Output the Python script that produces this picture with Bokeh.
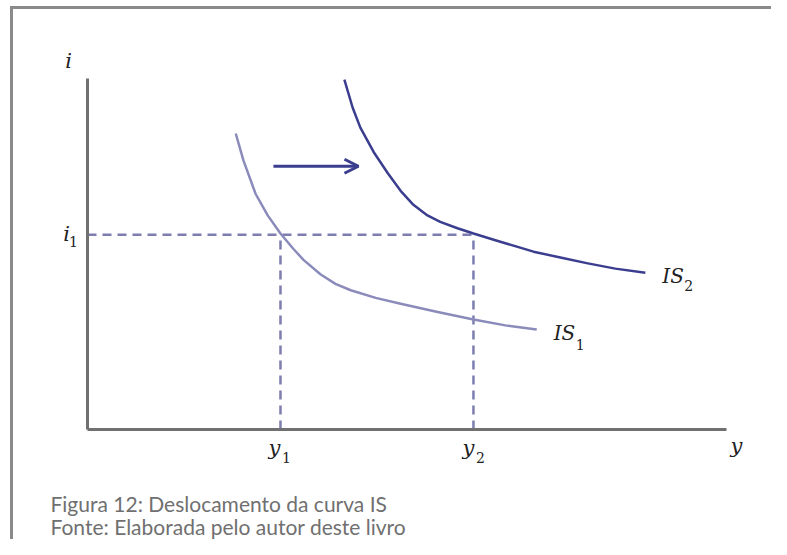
from bokeh.plotting import figure
from bokeh.models import Range1d, Arrow, OpenHead
from bokeh.core.properties import value
from bokeh.embed import file_html
from bokeh.resources import INLINE

# ---- chart values (model units: output y on horizontal axis, interest i on vertical) ----
is1_y = [2.32, 2.44, 2.63, 2.82, 3.02, 3.22, 3.38, 3.65, 3.88, 4.12, 4.51, 4.90, 5.48, 6.04, 6.54, 7.03]
is1_i = [5.06, 4.60, 4.03, 3.66, 3.35, 3.09, 2.90, 2.65, 2.49, 2.38, 2.25, 2.15, 2.01, 1.88, 1.78, 1.71]

is2_y = [4.02, 4.15, 4.27, 4.48, 4.70, 4.90, 5.10, 5.32, 5.52, 5.79, 6.04, 6.46, 6.98, 7.40, 7.83, 8.26, 8.73]
is2_i = [5.98, 5.50, 5.16, 4.74, 4.38, 4.08, 3.84, 3.66, 3.55, 3.44, 3.35, 3.21, 3.04, 2.94, 2.84, 2.75, 2.68]

i1 = 3.33
y1 = 3.02
y2 = 6.04
axis_y_max = 10.0
axis_i_max = 6.0
arrow_y = [2.91, 4.24]
arrow_i = 4.50

caption = ["Figura 12: Deslocamento da curva IS", "Fonte: Elaborada pelo autor deste livro"]

# ---- layout ----
W, H = 771, 539
OX, OY = 87, 429          # pixel of the axis origin
SX, SY = 63.9, 58.5       # pixels per model unit

x0 = -OX / SX
ytop = OY / SY
p = figure(width=W, height=H, output_backend="svg", toolbar_location=None,
           x_range=Range1d(x0, x0 + W / SX), y_range=Range1d(ytop - H / SY, ytop),
           x_axis_location=None, y_axis_location=None, min_border=0,
           background_fill_color="white", border_fill_color="white")
p.outline_line_color = None
p.grid.visible = False

# frame border (left and top edges of the page box)
bx = x0 + 11 / SX
by = ytop - 7 / SY
p.line([bx, bx], [ytop - H / SY - 1, by], line_color="#8a8a8a", line_width=3)
p.line([bx - 1.5 / SX, x0 + W / SX + 1], [by, by], line_color="#8a8a8a", line_width=3)

AX = "#707070"
DASH = "#7d7db0"
C1 = "#8b8bbb"
C2 = "#3b3e8e"

# dashed guides
p.line([0, y2], [i1, i1], line_color=DASH, line_width=2.5, line_dash="9 6")
p.line([y1, y1], [0, i1], line_color=DASH, line_width=2.5, line_dash="9 6")
p.line([y2, y2], [0, i1], line_color=DASH, line_width=2.5, line_dash="9 6")

# axes
p.line([0, 0], [0, axis_i_max], line_color=AX, line_width=3)
p.line([0, axis_y_max], [0, 0], line_color=AX, line_width=3)

# curves
p.line(is1_y, is1_i, line_color=C1, line_width=2.5, line_join="round")
p.line(is2_y, is2_i, line_color=C2, line_width=2.5, line_join="round")

# arrow
p.add_layout(Arrow(end=OpenHead(size=14, line_color=C2, line_width=3),
                   x_start=arrow_y[0], y_start=arrow_i, x_end=arrow_y[1], y_end=arrow_i,
                   line_color=C2, line_width=3))

SERIF = value("DejaVu Serif")
TXT = "#222222"

def lab(x, y, t, dx, dy, size, style="italic", align="center"):
    p.text(x=[x], y=[y], text=[t], x_offset=dx, y_offset=dy,
           text_font=SERIF, text_font_style=style, text_font_size=size,
           text_color=TXT, text_align=align, text_baseline="alphabetic")

# axis labels
lab(0, axis_i_max, "i", -19, -18, "21px")
lab(0, i1, "i", -21, -1, "21px")
lab(0, i1, "1", -14, 7, "14px", "normal")
lab(y1, 0, "y", -6, 18, "21px")
lab(y1, 0, "1", 6, 28, "14px", "normal")
lab(y2, 0, "y", -5, 18, "21px")
lab(y2, 0, "2", 7, 28, "14px", "normal")
lab(axis_y_max, 0, "y", 10, 16, "21px")

# curve labels
lab(is2_y[-1], is2_i[-1], "IS", 17, 3, "20px", align="left")
lab(is2_y[-1], is2_i[-1], "2", 39, 13, "14px", "normal", align="left")
lab(is1_y[-1], is1_i[-1], "IS", 17, 4, "20px", align="left")
lab(is1_y[-1], is1_i[-1], "1", 39, 15, "14px", "normal", align="left")

# caption
p.text(x=[0, 0], y=[0, 0], text=caption, x_offset=[-37, -37], y_offset=[74, 97],
       text_font=value("Lato"), text_font_size="21px", text_color="#707070",
       text_align="left", text_baseline="alphabetic")

open("out.html", "w").write(file_html(p, INLINE))
